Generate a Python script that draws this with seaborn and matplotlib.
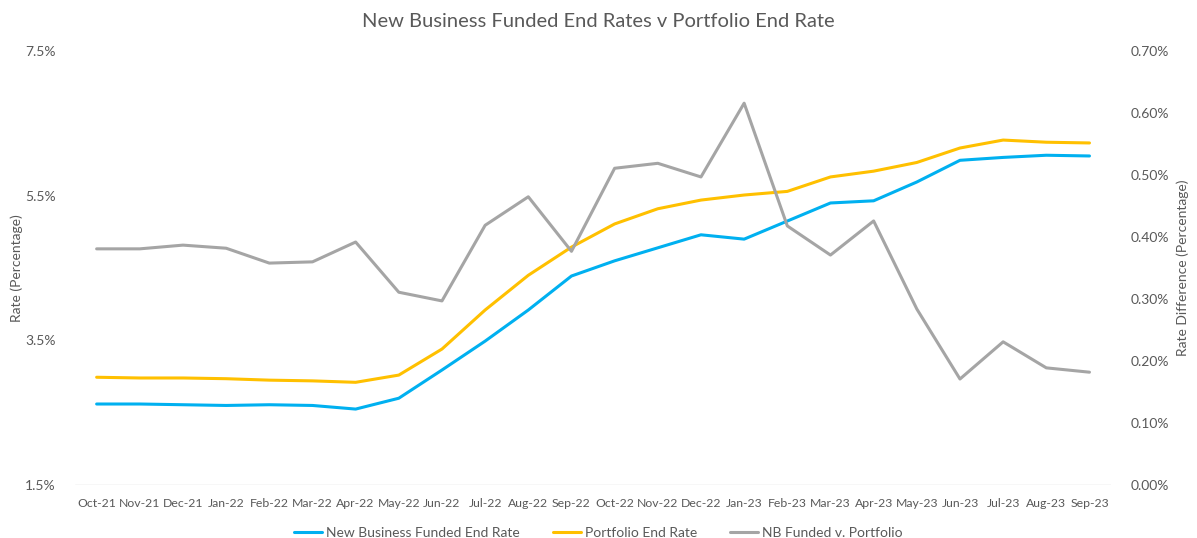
import pandas as pd
import matplotlib.pyplot as plt
import seaborn as sns
from matplotlib.ticker import FuncFormatter

# Data
months = ['Oct-21', 'Nov-21', 'Dec-21', 'Jan-22', 'Feb-22', 'Mar-22', 'Apr-22', 'May-22',
          'Jun-22', 'Jul-22', 'Aug-22', 'Sep-22', 'Oct-22', 'Nov-22', 'Dec-22', 'Jan-23',
          'Feb-23', 'Mar-23', 'Apr-23', 'May-23', 'Jun-23', 'Jul-23', 'Aug-23', 'Sep-23']
nb_funded = [2.62, 2.62, 2.61, 2.60, 2.61, 2.60, 2.55, 2.70, 3.09, 3.49, 3.92, 4.39,
             4.60, 4.78, 4.96, 4.90, 5.15, 5.40, 5.43, 5.69, 5.99, 6.03, 6.06, 6.05]
portfolio = [2.99, 2.98, 2.98, 2.97, 2.95, 2.94, 2.92, 3.02, 3.38, 3.92, 4.40, 4.79,
             5.11, 5.32, 5.44, 5.51, 5.56, 5.76, 5.84, 5.96, 6.16, 6.27, 6.24, 6.23]
difference = [0.381, 0.381, 0.387, 0.382, 0.358, 0.360, 0.392, 0.311, 0.297, 0.419, 0.465, 0.377,
              0.511, 0.519, 0.497, 0.616, 0.418, 0.371, 0.426, 0.284, 0.171, 0.231, 0.189, 0.182]

df = pd.DataFrame({'Month': months, 'NB': nb_funded, 'Portfolio': portfolio, 'Diff': difference})
df['pos'] = range(len(df))

sns.set_style('white')
plt.rcParams['font.family'] = ['Lato', 'DejaVu Sans']
text_grey = '#595959'

fig = plt.figure(figsize=(11.97, 5.38), dpi=100)
ax = fig.add_axes([0.0627, 0.0985, 0.8655, 0.8065])
ax2 = ax.twinx()

sns.lineplot(data=df, x='pos', y='NB', ax=ax, color='#00B0F0', linewidth=2.2,
             label='New Business Funded End Rate', legend=False)
sns.lineplot(data=df, x='pos', y='Portfolio', ax=ax, color='#FFC000', linewidth=2.2,
             label='Portfolio End Rate', legend=False)
sns.lineplot(data=df, x='pos', y='Diff', ax=ax2, color='#A5A5A5', linewidth=2.2,
             label='NB Funded v. Portfolio', legend=False)

ax.set_xlim(-0.5, len(months) - 0.5)
ax.set_xticks(df['pos'])
ax.set_xticklabels(months)
ax.set_ylim(1.5, 7.5)
ax.set_yticks([1.5, 3.5, 5.5, 7.5])
ax.yaxis.set_major_formatter(FuncFormatter(lambda v, p: f'{v:.1f}%'))
ax2.set_ylim(0, 0.7)
ax2.set_yticks([i / 10 for i in range(8)])
ax2.yaxis.set_major_formatter(FuncFormatter(lambda v, p: f'{v:.2f}%'))

for a in (ax, ax2):
    for s in a.spines.values():
        s.set_visible(False)
    a.tick_params(length=0, labelsize=10, colors=text_grey)
ax.tick_params(axis='x', pad=9, labelsize=8.8)
ax.tick_params(axis='y', pad=14)
ax2.tick_params(axis='y', pad=14)
ax.axhline(1.5, color='#D9D9D9', linewidth=1, zorder=0)

ax.set_xlabel('')
ax.set_ylabel('Rate (Percentage)', fontsize=10, color=text_grey)
ax2.set_ylabel('Rate Difference (Percentage)', fontsize=10, color=text_grey, rotation=90)
ax.yaxis.set_label_coords(-0.05, 0.5)
ax2.yaxis.set_label_coords(1.063, 0.5)

fig.suptitle('New Business Funded End Rates v Portfolio End Rate', fontsize=14.5,
             color=text_grey, y=0.975)

h1, l1 = ax.get_legend_handles_labels()
h2, l2 = ax2.get_legend_handles_labels()
fig.legend(h1 + h2, l1 + l2, loc='lower center', bbox_to_anchor=(0.5, -0.025), ncol=3,
           frameon=False, fontsize=10, handlelength=2.0, handletextpad=0.3,
           columnspacing=2.4, labelcolor=text_grey)

fig.savefig('out.png', dpi=100)
